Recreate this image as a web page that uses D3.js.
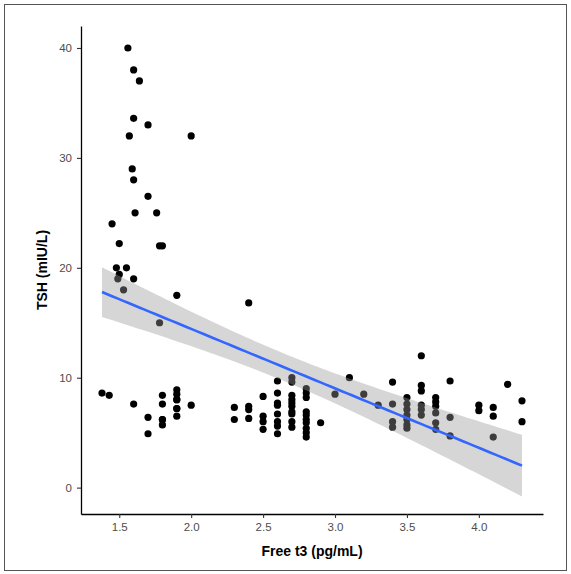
<!DOCTYPE html>
<html>
<head>
<meta charset="utf-8">
<script src="https://cdn.jsdelivr.net/npm/d3@7"></script>
<style>
  html, body { margin: 0; padding: 0; background: #fff; }
  svg { display: block; }
  .tick text { font-family: "Liberation Sans", Arial, sans-serif; font-size: 11.5px; fill: #4d4d4d; }
  .axis-title { font-family: "Liberation Sans", Arial, sans-serif; font-size: 14px; font-weight: bold; fill: #000; }
</style>
</head>
<body>
<svg id="chart" width="571" height="574"></svg>
<script>
// Free T3 (pg/mL) and TSH (mIU/L) for each subject (repeated pairs are separate subjects)
const freeT3 = [
  1.56, 1.60, 1.64, 1.60, 1.70, 1.57, 2.00, 1.59, 1.60, 1.70, 1.61, 1.76, 1.45,
  1.50, 1.78, 1.80, 1.48, 1.55, 1.50, 1.49, 1.60, 1.53, 1.90, 1.78, 2.40,
  1.38, 1.43, 1.60, 1.70, 1.70, 1.80, 1.80, 1.80, 1.80, 1.80,
  1.90, 1.90, 1.90, 1.90, 1.90, 1.90, 1.90, 2.00,
  2.30, 2.30,
  2.40, 2.40, 2.40,
  2.50, 2.50, 2.50, 2.50,
  2.60, 2.60, 2.60, 2.60, 2.60, 2.60, 2.60, 2.60,
  2.70, 2.70, 2.70, 2.70, 2.70, 2.70, 2.70, 2.70, 2.70, 2.70,
  2.80, 2.80, 2.80, 2.80, 2.80, 2.80, 2.80, 2.80, 2.80, 2.80,
  2.90, 3.00, 3.10, 3.20, 3.30,
  3.40, 3.40, 3.40, 3.40,
  3.50, 3.50, 3.50, 3.50, 3.50, 3.50, 3.50,
  3.60, 3.60, 3.60, 3.60, 3.60, 3.60,
  3.70, 3.70, 3.70, 3.70, 3.70, 3.70,
  3.80, 3.80, 3.80,
  4.00, 4.00,
  4.10, 4.10, 4.10,
  4.20,
  4.30, 4.30
];
const tsh = [
  40.0, 38.0, 37.0, 33.6, 33.0, 32.0, 32.0, 29.0, 28.0, 26.5, 25.0, 25.0, 24.0,
  22.2, 22.0, 22.0, 20.0, 20.0, 19.4, 19.0, 19.0, 18.0, 17.5, 15.0, 16.8,
  8.6, 8.4, 7.6, 6.4, 4.9, 8.4, 7.6, 6.2, 6.2, 5.7,
  8.9, 8.5, 8.0, 8.0, 7.2, 7.2, 6.5, 7.5,
  7.3, 6.2,
  7.4, 7.1, 6.3,
  8.3, 6.5, 6.0, 5.3,
  9.7, 8.6, 7.7, 7.5, 6.7, 6.0, 5.6, 4.9,
  10.0, 9.6, 8.4, 8.0, 7.7, 7.4, 6.9, 6.7, 6.0, 5.5,
  9.0, 8.6, 8.2, 6.9, 6.6, 6.2, 5.9, 5.4, 5.0, 4.6,
  5.9, 8.5, 10.0, 8.5, 7.5,
  9.6, 7.6, 6.0, 5.5,
  8.2, 7.6, 7.1, 6.6, 6.2, 5.7, 5.4,
  12.0, 9.3, 8.8, 7.5, 7.1, 6.6,
  8.2, 7.8, 7.4, 6.8, 5.9, 5.3,
  9.7, 6.4, 4.7,
  7.5, 7.0,
  7.3, 6.5, 4.6,
  9.4,
  7.9, 6.0
];
const xTickValues = [1.5, 2.0, 2.5, 3.0, 3.5, 4.0];
const yTickValues = [0, 10, 20, 30, 40];
const yDomain = [-2.4, 42.0];
const xLabel = "Free t3 (pg/mL)";
const yLabel = "TSH (mIU/L)";

const points = freeT3.map((x, i) => ({ x, y: tsh[i] }));

// Ordinary least squares fit with a 95% confidence band for the mean
const n = points.length;
const xbar = d3.mean(points, d => d.x);
const ybar = d3.mean(points, d => d.y);
const sxx = d3.sum(points, d => (d.x - xbar) ** 2);
const sxy = d3.sum(points, d => (d.x - xbar) * (d.y - ybar));
const slope = sxy / sxx;
const intercept = ybar - slope * xbar;
const rss = d3.sum(points, d => (d.y - (intercept + slope * d.x)) ** 2);
const sigma = Math.sqrt(rss / (n - 2));
const nu = n - 2, z = 1.959964;
const tCrit = z + (z ** 3 + z) / (4 * nu) + (5 * z ** 5 + 16 * z ** 3 + 3 * z) / (96 * nu * nu);

const [xMin, xMax] = d3.extent(points, d => d.x);
const band = d3.range(80).map(i => {
  const xv = xMin + (xMax - xMin) * i / 79;
  const fit = intercept + slope * xv;
  const se = sigma * Math.sqrt(1 / n + (xv - xbar) ** 2 / sxx);
  return { x: xv, fit, lo: fit - tCrit * se, hi: fit + tCrit * se };
});

// x domain padded by 5% on each side
const xPad = (xMax - xMin) * 0.05;

const svg = d3.select("#chart");
const plotLeft = 81, plotRight = 543, plotTop = 26, plotBottom = 514;

const x = d3.scaleLinear().domain([xMin - xPad, xMax + xPad]).range([plotLeft, plotRight]);
const y = d3.scaleLinear().domain(yDomain).range([plotBottom, plotTop]);

// Outer frame
svg.append("rect")
  .attr("x", 4.5).attr("y", 4.5).attr("width", 562).attr("height", 566)
  .attr("fill", "none").attr("stroke", "#555").attr("stroke-width", 1);

// Points
svg.append("g").selectAll("circle").data(points).join("circle")
  .attr("cx", d => x(d.x)).attr("cy", d => y(d.y)).attr("r", 3.6)
  .attr("fill", "#000");

// Confidence band over the points
svg.append("path").datum(band)
  .attr("d", d3.area().x(d => x(d.x)).y0(d => y(d.lo)).y1(d => y(d.hi)))
  .attr("fill", "#999999").attr("fill-opacity", 0.4);

// Fitted line
svg.append("path").datum(band)
  .attr("d", d3.line().x(d => x(d.x)).y(d => y(d.fit)))
  .attr("fill", "none").attr("stroke", "#3366FF").attr("stroke-width", 2.6);

// Axes
const xAxis = svg.append("g").attr("transform", `translate(0,${plotBottom})`)
  .call(d3.axisBottom(x).tickValues(xTickValues).tickFormat(d3.format(".1f"))
    .tickSize(4).tickSizeOuter(0).tickPadding(5));
const yAxis = svg.append("g").attr("transform", `translate(${plotLeft},0)`)
  .call(d3.axisLeft(y).tickValues(yTickValues).tickFormat(d3.format("d"))
    .tickSize(4).tickSizeOuter(0).tickPadding(5));

[xAxis, yAxis].forEach(g => {
  g.select(".domain").attr("stroke", "#000").attr("stroke-width", 1.3);
  g.selectAll(".tick line").attr("stroke", "#333").attr("stroke-width", 1.1);
});

// Axis titles
svg.append("text").attr("class", "axis-title")
  .attr("x", (plotLeft + plotRight) / 2).attr("y", 556)
  .attr("text-anchor", "middle").text(xLabel);
svg.append("text").attr("class", "axis-title")
  .attr("transform", `translate(47,${(plotTop + plotBottom) / 2}) rotate(-90)`)
  .attr("text-anchor", "middle").text(yLabel);
</script>
</body>
</html>
